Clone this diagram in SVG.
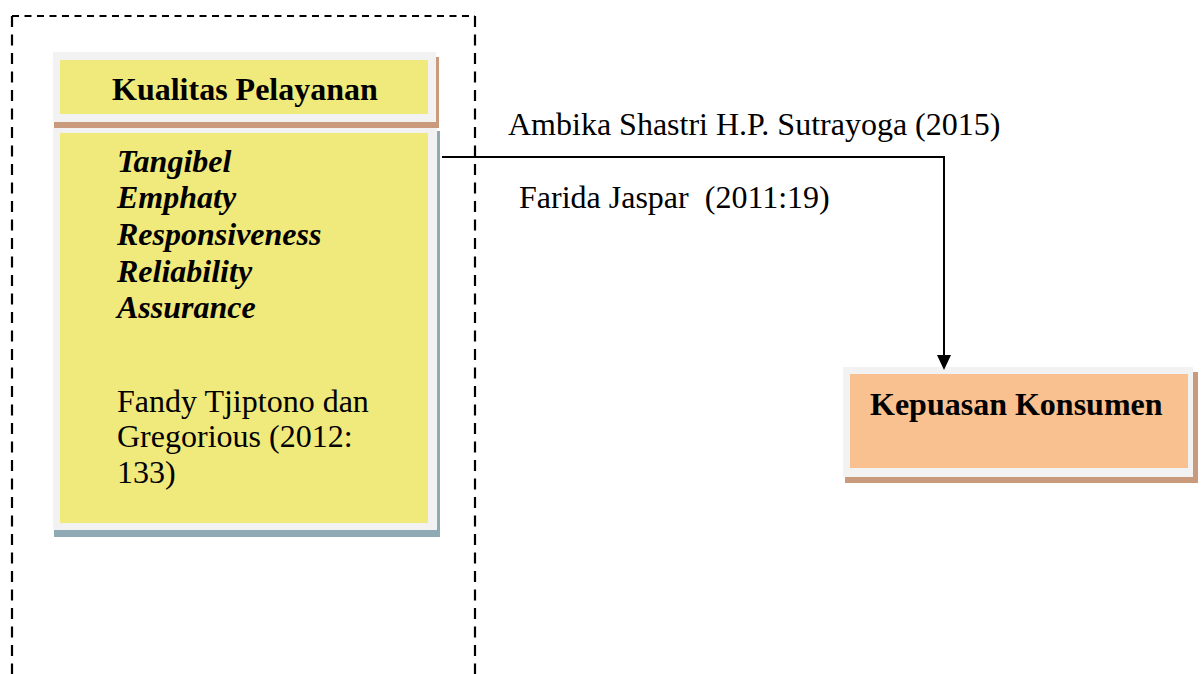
<svg xmlns="http://www.w3.org/2000/svg" width="1203" height="674" viewBox="0 0 1203 674">
<style>
.frame{fill:#F2F2F2}
.yellow{fill:#F0E97B}
.orange{fill:#F9C190}
.tan{fill:#C99B7C}
.blue{fill:#8FAAB4}
.t{font-family:"Liberation Serif","Times New Roman",serif;font-size:32px;fill:#000;white-space:pre}
.b{font-weight:bold}
.bi{font-weight:bold;font-style:italic}
.conn{fill:none;stroke:#000;stroke-width:2}
.dash{fill:none;stroke:#000;stroke-width:2.2}
</style>
<g id="boundary">
<line class="dash" x1="12" y1="16" x2="475" y2="16" stroke-dasharray="7 5.5"/>
<line class="dash" x1="12" y1="16" x2="12" y2="680" stroke-dasharray="11 7.5"/>
<line class="dash" x1="475" y1="16" x2="475" y2="680" stroke-dasharray="11 7.5"/>
</g>
<g id="kualitas-title">
<rect class="tan" x="54" y="57" width="385" height="71"/>
<rect class="frame" x="53" y="52" width="383" height="70"/>
<rect class="yellow" x="60" y="60" width="368" height="54"/>
<text class="t b" x="112" y="100">Kualitas Pelayanan</text>
</g>
<g id="kualitas-dimensi">
<rect class="blue" x="54" y="131" width="386" height="406"/>
<rect class="frame" x="53" y="128" width="384" height="402"/>
<rect class="yellow" x="60" y="133" width="368" height="390"/>
<text class="t bi" x="117" y="172">Tangibel</text>
<text class="t bi" x="117" y="208">Emphaty</text>
<text class="t bi" x="117" y="245">Responsiveness</text>
<text class="t bi" x="117" y="282">Reliability</text>
<text class="t bi" x="117" y="318">Assurance</text>
<text class="t" x="117" y="412">Fandy Tjiptono dan</text>
<text class="t" x="117" y="447">Gregorious (2012:</text>
<text class="t" x="117" y="483">133)</text>
</g>
<g id="kepuasan">
<rect class="tan" x="845" y="372" width="353" height="111"/>
<rect class="frame" x="843" y="367" width="350" height="110"/>
<rect class="orange" x="850" y="374" width="338" height="94"/>
<text class="t b" x="870" y="415">Kepuasan Konsumen</text>
</g>
<g id="connectors">
<polyline class="conn" points="442,157 944,157 944,357"/>
<polygon points="937,355 951,355 944,370" fill="#000"/>
<text class="t" x="508" y="135">Ambika Shastri H.P. Sutrayoga (2015)</text>
<text class="t" x="519" y="208" xml:space="preserve">Farida Jaspar  (2011:19)</text>
</g>
</svg>
